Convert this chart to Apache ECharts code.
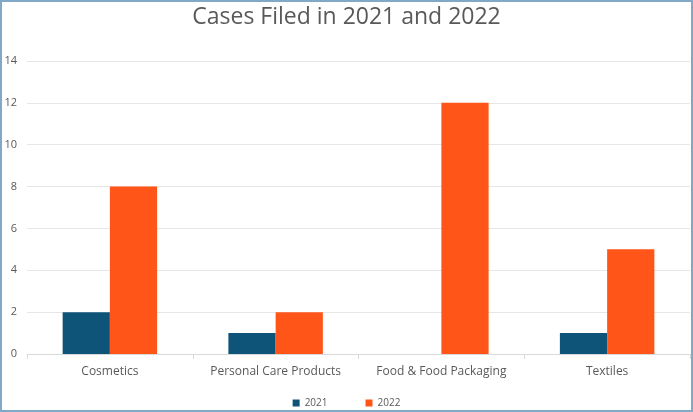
<!DOCTYPE html>
<html><head><meta charset="utf-8">
<script src="https://cdn.jsdelivr.net/npm/echarts@6/dist/echarts.min.js"></script>
<style>
html,body{margin:0;padding:0;background:#fff;}
#wrap{position:relative;width:693px;height:412px;}
#chart{width:693px;height:412px;}
#frame{position:absolute;left:0;top:0;width:693px;height:412px;box-sizing:border-box;border:2px solid #7FA9C6;pointer-events:none;}
</style></head>
<body><div id="wrap"><div id="chart"></div><div id="frame"></div></div>
<script>
const categories = ["Cosmetics", "Personal Care Products", "Food & Food Packaging", "Textiles"];
const cases2021 = [2, 1, 0, 1];
const cases2022 = [8, 2, 12, 5];
const yTicks = [0, 2, 4, 6, 8, 10, 12, 14];

const chart = echarts.init(document.getElementById('chart'));
chart.setOption({
  animation: false,
  textStyle: { fontFamily: 'Open Sans' },
  title: {
    text: 'Cases Filed in 2021 and 2022',
    left: 'center', top: 1,
    textStyle: { fontFamily: 'Open Sans', fontSize: 23, fontWeight: 'normal', color: '#595959' }
  },
  legend: {
    bottom: -1, left: 'center',
    itemWidth: 7, itemHeight: 7, itemGap: 38, icon: 'rect',
    textStyle: { fontSize: 10, color: '#595959' }
  },
  grid: { left: 27, right: 3, top: 61, bottom: 58, containLabel: false },
  xAxis: {
    type: 'category', data: categories,
    axisLine: { lineStyle: { color: '#d9d9d9' } },
    axisTick: { show: true, length: 5, lineStyle: { color: '#d9d9d9' } },
    axisLabel: { color: '#595959', fontSize: 12, margin: 12, interval: 0 }
  },
  yAxis: {
    type: 'value', min: yTicks[0], max: yTicks[yTicks.length - 1], interval: 2,
    axisLine: { show: false }, axisTick: { show: false },
    axisLabel: { color: '#595959', fontSize: 11, margin: 10 },
    splitLine: { lineStyle: { color: '#e6e6e6' } }
  },
  series: [
    { name: '2021', type: 'bar', data: cases2021, itemStyle: { color: '#0E5478' }, barGap: '0%', barCategoryGap: '43%' },
    { name: '2022', type: 'bar', data: cases2022, itemStyle: { color: '#FF5518' } }
  ]
});
</script></body></html>
